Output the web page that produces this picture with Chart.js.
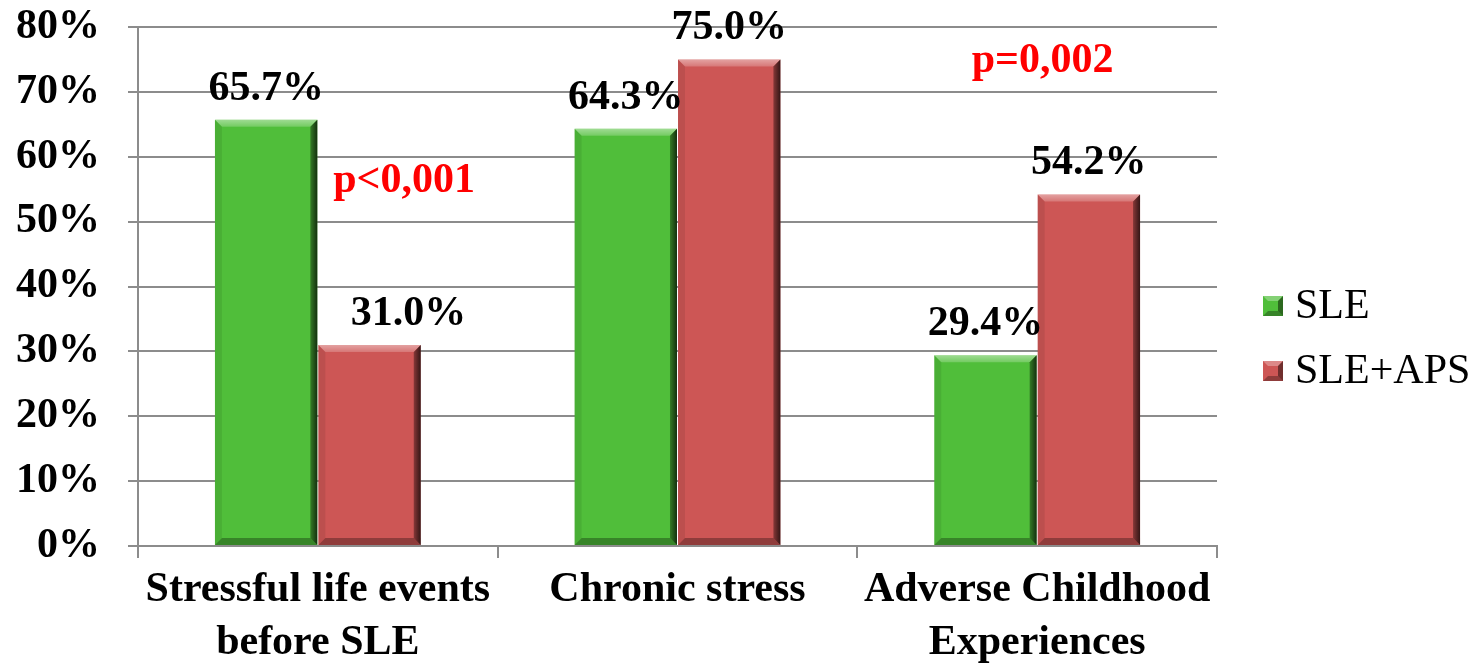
<!DOCTYPE html>
<html>
<head>
<meta charset="utf-8">
<script src="https://cdn.jsdelivr.net/npm/chart.js@4"></script>
<style>
    html, body { margin: 0; padding: 0; background: #fff; }
    #wrap { width: 1475px; height: 668px; position: relative; }
</style>
</head>
<body>
<div id="wrap"><canvas id="stressChart"></canvas></div>
<script>
const categories = [['Stressful life events', 'before SLE'], 'Chronic stress', ['Adverse Childhood', 'Experiences']];
const seriesNames = ['SLE', 'SLE+APS'];
const sleValues = [65.7, 64.3, 29.4];
const sleApsValues = [31.0, 75.0, 54.2];
const yTicks = [0, 10, 20, 30, 40, 50, 60, 70, 80];
// p-value notes: category index + shift (in categories), y value in %
const pNotes = [
    { text: 'p<0,001', cat: 0, shift: 0.24, y: 56.3 },
    { text: 'p=0,002', cat: 2, shift: 0.015, y: 74.7 }
];

const FONT = '"Liberation Serif", "Times New Roman", serif';
const GREEN = 'rgb(80, 190, 58)';
const RED = 'rgb(205, 86, 85)';
// the 31.0% label sits a bit to the right in the original
const labelNudge = { '1-0': 39 };

// bevelled bar edges, like the office 3d bars
const bevelPlugin = {
    id: 'bevel',
    afterDatasetsDraw(chart) {
        const ctx = chart.ctx;
        chart.data.datasets.forEach((ds, di) => {
            chart.getDatasetMeta(di).data.forEach(bar => {
                const p = bar.getProps(['x', 'y', 'base', 'width'], true);
                const l = p.x - p.width / 2, r = p.x + p.width / 2;
                const t = p.y, b = p.base, e = 7;
                ctx.save();
                // top light
                const gt = ctx.createLinearGradient(0, t, 0, t + e);
                gt.addColorStop(0, 'rgba(255,255,255,0.45)');
                gt.addColorStop(1, 'rgba(255,255,255,0.2)');
                ctx.fillStyle = gt;
                ctx.beginPath();
                ctx.moveTo(l, t); ctx.lineTo(r, t); ctx.lineTo(r - e, t + e); ctx.lineTo(l + e, t + e);
                ctx.fill();
                // left slightly dark
                ctx.fillStyle = 'rgba(0,0,0,0.08)';
                ctx.beginPath();
                ctx.moveTo(l, t); ctx.lineTo(l + e, t + e); ctx.lineTo(l + e, b - e); ctx.lineTo(l, b);
                ctx.fill();
                // right dark
                const g = ctx.createLinearGradient(r - e, 0, r, 0);
                g.addColorStop(0, 'rgba(0,0,0,0.35)');
                g.addColorStop(1, 'rgba(0,0,0,0.75)');
                ctx.fillStyle = g;
                ctx.beginPath();
                ctx.moveTo(r, t); ctx.lineTo(r, b); ctx.lineTo(r - e, b - e); ctx.lineTo(r - e, t + e);
                ctx.fill();
                // bottom dark
                ctx.fillStyle = 'rgba(0,0,0,0.3)';
                ctx.beginPath();
                ctx.moveTo(l, b); ctx.lineTo(r, b); ctx.lineTo(r - e, b - e); ctx.lineTo(l + e, b - e);
                ctx.fill();
                ctx.restore();
            });
        });
    }
};

// value labels, p-values and legend
const textPlugin = {
    id: 'texts',
    afterDraw(chart) {
        const ctx = chart.ctx;
        const xs = chart.scales.x, ys = chart.scales.y;
        ctx.save();
        ctx.textAlign = 'center';
        ctx.textBaseline = 'alphabetic';
        ctx.fillStyle = '#000';
        ctx.font = 'bold 42px ' + FONT;
        chart.data.datasets.forEach((ds, di) => {
            chart.getDatasetMeta(di).data.forEach((bar, i) => {
                const dx = labelNudge[di + '-' + i] || 0;
                ctx.fillText(ds.data[i].toFixed(1) + '%', bar.x + dx, bar.y - 20);
            });
        });

        ctx.textBaseline = 'middle';
        ctx.fillStyle = '#ff0000';
        const catW = xs.getPixelForValue(1) - xs.getPixelForValue(0);
        pNotes.forEach(n => {
            ctx.fillText(n.text, xs.getPixelForValue(n.cat) + n.shift * catW, ys.getPixelForValue(n.y));
        });

        // legend
        const lx = chart.chartArea.right + 46;
        ctx.textAlign = 'left';
        ctx.font = '42px ' + FONT;
        chart.data.datasets.forEach((ds, di) => {
            const cy = 306 + di * 65;
            const s = 20, bx = lx, by = cy - s / 2, e = 5;
            ctx.fillStyle = ds.backgroundColor;
            ctx.fillRect(bx, by, s, s);
            ctx.fillStyle = 'rgba(255,255,255,0.3)';
            ctx.beginPath(); ctx.moveTo(bx, by); ctx.lineTo(bx + s, by); ctx.lineTo(bx + s - e, by + e); ctx.lineTo(bx + e, by + e); ctx.fill();
            ctx.fillStyle = 'rgba(0,0,0,0.45)';
            ctx.beginPath(); ctx.moveTo(bx + s, by); ctx.lineTo(bx + s, by + s); ctx.lineTo(bx + s - e, by + s - e); ctx.lineTo(bx + s - e, by + e); ctx.fill();
            ctx.fillStyle = 'rgba(0,0,0,0.3)';
            ctx.beginPath(); ctx.moveTo(bx, by + s); ctx.lineTo(bx + s, by + s); ctx.lineTo(bx + s - e, by + s - e); ctx.lineTo(bx + e, by + s - e); ctx.fill();
            ctx.fillStyle = '#000';
            ctx.fillText(ds.label, bx + 32, cy + 1);
        });
        ctx.restore();
    }
};

new Chart(document.getElementById('stressChart'), {
    type: 'bar',
    data: {
        labels: categories,
        datasets: [
            { label: seriesNames[0], data: sleValues, backgroundColor: GREEN },
            { label: seriesNames[1], data: sleApsValues, backgroundColor: RED }
        ]
    },
    options: {
        responsive: true,
        maintainAspectRatio: false,
        animation: false,
        layout: { padding: { top: 27, right: 258, left: 0, bottom: 0 } },
        datasets: { bar: { categoryPercentage: 0.575, barPercentage: 0.99 } },
        plugins: {
            legend: { display: false },
            tooltip: { enabled: false }
        },
        scales: {
            x: {
                grid: { offset: true, drawOnChartArea: false, drawTicks: true, tickLength: 12, color: '#8c8c8c', lineWidth: 2 },
                border: { color: '#8c8c8c', width: 2 },
                ticks: { color: '#000', font: { family: FONT, size: 42, weight: 'bold', lineHeight: 1.25 }, padding: 6, maxRotation: 0 },
                afterFit: scale => { scale.height = 122; }
            },
            y: {
                min: 0,
                max: 80,
                afterBuildTicks: scale => { scale.ticks = yTicks.map(v => ({ value: v })); },
                grid: { color: '#8c8c8c', lineWidth: 2, tickLength: 10 },
                border: { color: '#8c8c8c', width: 2 },
                ticks: {
                    color: '#000',
                    font: { family: FONT, size: 42, weight: 'bold' },
                    padding: 28,
                    callback: v => v + '%'
                },
                afterFit: scale => {
                    scale.width = 138;
                    scale.paddingTop = 0;
                    scale.paddingBottom = 0;
                }
            }
        }
    },
    plugins: [bevelPlugin, textPlugin]
});
</script>
</body>
</html>
